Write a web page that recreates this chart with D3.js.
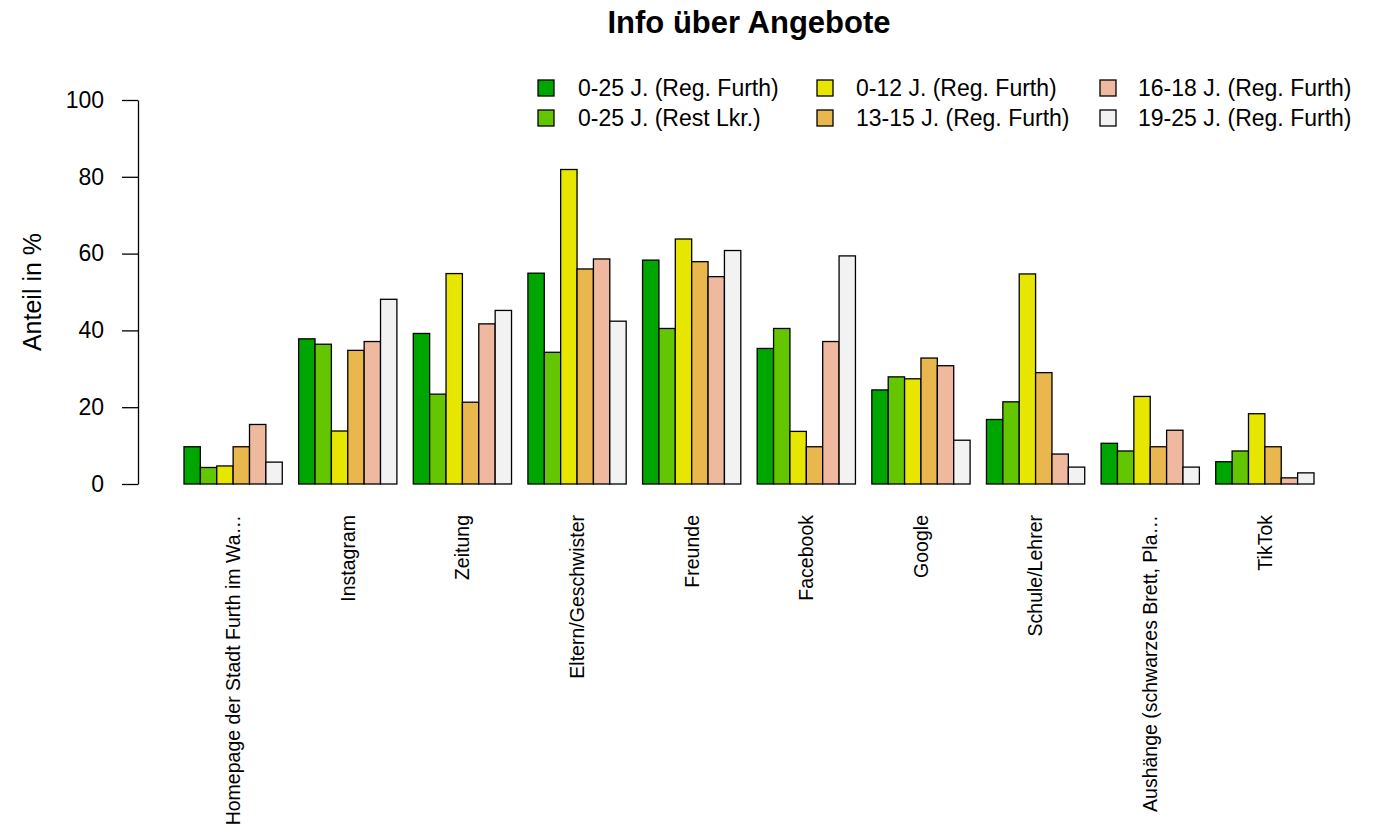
<!DOCTYPE html>
<html>
<head>
<meta charset="utf-8">
<script src="https://cdn.jsdelivr.net/npm/d3@7"></script>
<style>
  body { margin: 0; background: #fff; }
  svg { font-family: "Liberation Sans", Arial, sans-serif; }
</style>
</head>
<body>
<svg id="chart" width="1373" height="826"></svg>
<script>
const categories = ["Homepage der Stadt Furth im Wa…", "Instagram", "Zeitung", "Eltern/Geschwister", "Freunde", "Facebook", "Google", "Schule/Lehrer", "Aushänge (schwarzes Brett, Pla…", "TikTok"];
const seriesNames = ["0-25 J. (Reg. Furth)", "0-25 J. (Rest Lkr.)", "0-12 J. (Reg. Furth)", "13-15 J. (Reg. Furth)", "16-18 J. (Reg. Furth)", "19-25 J. (Reg. Furth)"];
const seriesColors = ["#00A600", "#63C600", "#E6E600", "#EAB64E", "#EEB99F", "#F2F2F2"];
const s_0_25_furth = [9.7, 37.8, 39.2, 54.9, 58.3, 35.3, 24.5, 16.8, 10.6, 5.8];
const s_0_25_rest  = [4.3, 36.4, 23.4, 34.3, 40.5, 40.5, 27.9, 21.4, 8.6, 8.6];
const s_0_12       = [4.7, 13.8, 54.8, 81.9, 63.8, 13.7, 27.4, 54.7, 22.8, 18.3];
const s_13_15      = [9.7, 34.8, 21.3, 56.0, 57.9, 9.7, 32.8, 29.0, 9.7, 9.7];
const s_16_18      = [15.5, 37.1, 41.7, 58.6, 54.0, 37.1, 30.8, 7.8, 14.0, 1.6];
const s_19_25      = [5.7, 48.1, 45.2, 42.4, 60.8, 59.4, 11.4, 4.4, 4.4, 2.9];
const yTicks = [0, 20, 40, 60, 80, 100];
const titleText = "Info über Angebote";
const yLabel = "Anteil in %";

const seriesValues = [s_0_25_furth, s_0_25_rest, s_0_12, s_13_15, s_16_18, s_19_25];

const svg = d3.select("#chart");

const x0 = d3.scaleBand().domain(categories).range([184, 1314]).paddingInner(1/7).paddingOuter(0);
const x1 = d3.scaleBand().domain(d3.range(seriesNames.length)).range([0, x0.bandwidth()]);
const y = d3.scaleLinear().domain([0, 100]).range([484, 100]);

// title
svg.append("text")
  .attr("x", 749).attr("y", 33)
  .attr("text-anchor", "middle")
  .attr("font-weight", "bold")
  .attr("font-size", 31)
  .text(titleText);

// bars
const groups = svg.append("g").selectAll("g")
  .data(categories)
  .join("g")
  .attr("transform", d => `translate(${x0(d)},0)`);

groups.selectAll("rect")
  .data((c, ci) => seriesValues.map((vals, si) => ({ si, v: vals[ci] })))
  .join("rect")
  .attr("x", d => x1(d.si))
  .attr("width", x1.bandwidth())
  .attr("y", d => y(d.v))
  .attr("height", d => y(0) - y(d.v))
  .attr("fill", d => seriesColors[d.si])
  .attr("stroke", "#000")
  .attr("stroke-width", 1.3);

// y axis
const yAxis = d3.axisLeft(y).tickValues(yTicks).tickSize(16).tickSizeOuter(0).tickPadding(18);
const ag = svg.append("g").attr("transform", "translate(138,0)").call(yAxis);
ag.select(".domain").attr("stroke", "#000").attr("stroke-width", 1.3);
ag.selectAll(".tick line").attr("stroke", "#000").attr("stroke-width", 1.3);
ag.selectAll(".tick text").attr("font-size", 23).attr("fill", "#000")
  .attr("font-family", "'Liberation Sans', Arial, sans-serif");

// y label
svg.append("text")
  .attr("transform", "translate(41,292) rotate(-90)")
  .attr("text-anchor", "middle")
  .attr("font-size", 25)
  .text(yLabel);

// category labels
svg.append("g").selectAll("text")
  .data(categories)
  .join("text")
  .attr("transform", d => `translate(${x0(d) + x0.bandwidth() / 2},515) rotate(-90)`)
  .attr("text-anchor", "end")
  .attr("dy", "0.35em")
  .attr("font-size", 19.5)
  .text(d => d);

// legend
const legendCols = [[538, 578], [817, 856], [1100, 1138]];
const legendRows = [88, 118];
const lg = svg.append("g").selectAll("g")
  .data(seriesNames)
  .join("g")
  .attr("transform", (d, i) => `translate(${legendCols[Math.floor(i / 2)][0]},${legendRows[i % 2]})`);
lg.append("rect")
  .attr("x", 0).attr("y", -8).attr("width", 16).attr("height", 16)
  .attr("fill", (d, i) => seriesColors[i])
  .attr("stroke", "#000").attr("stroke-width", 1.3);
lg.append("text")
  .attr("x", (d, i) => legendCols[Math.floor(i / 2)][1] - legendCols[Math.floor(i / 2)][0])
  .attr("y", 0)
  .attr("dy", "0.35em")
  .attr("font-size", 23)
  .text(d => d);
</script>
</body>
</html>
